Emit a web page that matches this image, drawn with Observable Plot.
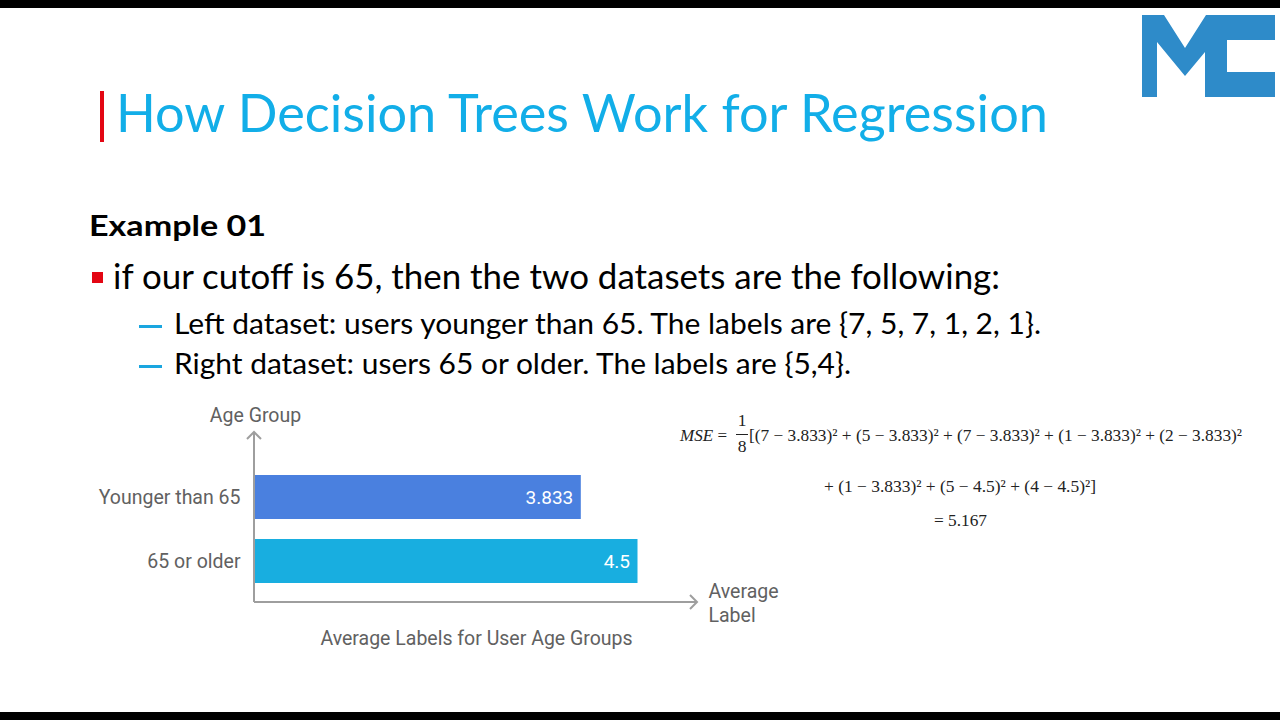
<!DOCTYPE html>
<html>
<head>
<meta charset="utf-8">
<script src="https://cdn.jsdelivr.net/npm/d3@7"></script>
<script src="https://cdn.jsdelivr.net/npm/@observablehq/plot@0.6"></script>
<style>
  html, body { margin: 0; padding: 0; background: #fff; }
  body { width: 1280px; height: 720px; position: relative; overflow: hidden; }
  .bar-top { position: absolute; left: 0; top: 0; width: 1280px; height: 8px; background: #000; }
  .bar-bot { position: absolute; left: 0; top: 712px; width: 1280px; height: 8px; background: #000; }
  .t { position: absolute; white-space: nowrap; transform-origin: 0 0; line-height: 1.2; }
  .slide { font-family: Lato, "Open Sans", sans-serif; color: #000; }
  .math { font-family: "Liberation Serif", "DejaVu Serif", serif; font-size: 17.5px; color: #222; }
  #chart { position: absolute; left: 0; top: 395px; }
</style>
</head>
<body>
<div class="bar-top"></div>
<div class="bar-bot"></div>

<svg style="position:absolute;left:0;top:0" width="1280" height="120">
  <g fill="#2e8bc9">
    <path d="M1142,15 H1164 L1185,48 L1206,15 H1275 V40 H1227 V72 H1275 V97 H1205 V52 L1185,76 L1157,42 V97 H1142 Z"/>
  </g>
</svg>

<div style="position:absolute;left:100px;top:91px;width:4px;height:51px;background:#e30613"></div>
<div class="t slide" data-x="116" data-b="132" data-w="932" style="font-size:53px;color:#12aee8">How Decision Trees Work for Regression</div>
<div class="t slide" data-x="89" data-b="236" data-w="177" style="font-size:29px;font-weight:700">Example 01</div>
<div style="position:absolute;left:92px;top:272px;width:11px;height:11px;background:#e30613"></div>
<div class="t slide" data-x="113" data-b="289" data-w="887" style="font-size:35px">if our cutoff is 65, then the two datasets are the following:</div>
<div style="position:absolute;left:139px;top:325px;width:23px;height:3px;background:#1aa6e0"></div>
<div style="position:absolute;left:139px;top:365px;width:23px;height:3px;background:#1aa6e0"></div>
<div class="t slide" id="leftLine" data-x="174" data-b="334" data-w="867" style="font-size:29px"></div>
<div class="t slide" id="rightLine" data-x="174" data-b="374" data-w="677" style="font-size:29px"></div>

<div class="t math" data-x="680" data-b="441" data-w="47"><i>MSE</i> =</div>
<div class="t math" data-c="742" data-b="426">1</div>
<div style="position:absolute;left:736px;top:434px;width:12px;height:1px;background:#222"></div>
<div class="t math" data-c="742" data-b="452">8</div>
<div class="t math" data-x="749" data-b="441" data-w="493">[(7 − 3.833)² + (5 − 3.833)² + (7 − 3.833)² + (1 − 3.833)² + (2 − 3.833)²</div>
<div class="t math" data-x="824" data-b="492" data-w="272">+ (1 − 3.833)² + (5 − 4.5)² + (4 − 4.5)²]</div>
<div class="t math" data-x="934" data-b="526" data-w="53">= 5.167</div>

<div id="chart"></div>

<script>
// ---- data ----
const groups = ["Younger than 65", "65 or older"];
const averages = [3.833, 4.5];
const valueLabels = ["3.833", "4.5"];
const leftLabels = [7, 5, 7, 1, 2, 1];
const rightLabels = [5, 4];
const xMax = 5.2;

document.getElementById("leftLine").textContent =
  "Left dataset: users younger than 65. The labels are {" + leftLabels.join(", ") + "}.";
document.getElementById("rightLine").textContent =
  "Right dataset: users 65 or older. The labels are {" + rightLabels.join(",") + "}.";

const table = groups.map((g, i) => ({group: g, avg: averages[i], label: valueLabels[i]}));

function axisArrows(index, scales, values, dim) {
  const x0 = scales.x(0) - 1;
  const x1 = scales.x(xMax);
  const y0 = dim.marginTop - 2;
  const y1 = dim.height - dim.marginBottom;
  const g = d3.create("svg:g").attr("fill", "none").attr("stroke", "#9e9e9e").attr("stroke-width", 2);
  g.append("path").attr("d", `M${x0},${y1}V${y0}M${x0 - 7},${y0 + 7}L${x0},${y0}L${x0 + 7},${y0 + 7}`);
  g.append("path").attr("d", `M${x0},${y1}H${x1}M${x1 - 7},${y1 - 7}L${x1},${y1}L${x1 - 7},${y1 + 7}`);
  return g.node();
}

const chart = Plot.plot({
  width: 800,
  height: 260,
  marginLeft: 255,
  marginRight: 103,
  marginTop: 39,
  marginBottom: 53,
  style: {fontFamily: "Roboto", fontSize: "19.5px", color: "#616161", background: "transparent", overflow: "visible"},
  x: {domain: [0, xMax], axis: null},
  y: {domain: groups, range: [60, 208], paddingInner: 0.3125, paddingOuter: 0.3125, tickSize: 0, tickPadding: 15, label: null},
  color: {domain: groups, range: ["#4a80df", "#18aee0"]},
  marks: [
    Plot.barX(table, {x: "avg", y: "group", fill: "group"}),
    Plot.text(table, {x: "avg", y: "group", text: "label", textAnchor: "end", dx: -8, fill: "white", fontSize: 19}),
    axisArrows,
    Plot.text(["Age Group"], {text: d => d, frameAnchor: "top-left", dy: -19, textAnchor: "middle", lineAnchor: "middle", fill: "#616161"}),
    Plot.text(["Average\nLabel"], {text: d => d, frameAnchor: "bottom-right", dx: 11, textAnchor: "start", lineAnchor: "middle", lineHeight: 1.2, fill: "#616161"}),
    Plot.text(["Average Labels for User Age Groups"], {text: d => d, frameAnchor: "bottom", dy: 36, lineAnchor: "middle", fill: "#616161"})
  ]
});
document.getElementById("chart").appendChild(chart);

function layout() {
  document.querySelectorAll(".t").forEach(el => {
    el.style.left = "0px"; el.style.top = "0px";
    const probe = document.createElement("span");
    probe.style.cssText = "display:inline-block;width:0;height:0;vertical-align:baseline";
    el.appendChild(probe);
    const base = probe.getBoundingClientRect().top;
    el.style.top = (+el.dataset.b - base) + "px";
    const w = el.getBoundingClientRect().width;
    if (el.dataset.w) {
      el.style.transform = `scaleX(${+el.dataset.w / w})`;
      el.style.left = el.dataset.x + "px";
    } else if (el.dataset.c) {
      el.style.left = (+el.dataset.c - w / 2) + "px";
    } else {
      el.style.left = el.dataset.x + "px";
    }
  });
}
if (document.fonts && document.fonts.ready) document.fonts.ready.then(layout); else layout();
</script>
</body>
</html>
